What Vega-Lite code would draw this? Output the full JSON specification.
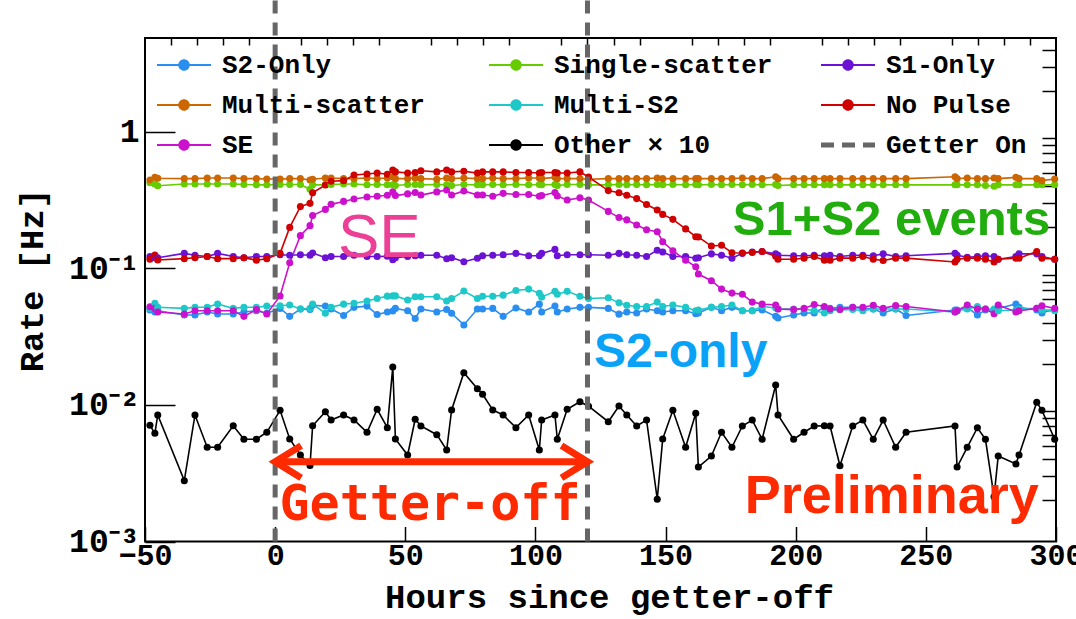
{
"$schema": "https://vega.github.io/schema/vega-lite/v6.json",
"width": 911, "height": 503.5,
"autosize": {"type": "none"},
"padding": {"left": 145, "top": 38, "right": 20, "bottom": 77},
"background": "white",
"config": {"view": {"stroke": "black", "strokeWidth": 2}, "axis": {"grid": false, "domain": false}},
"resolve": {"axis": {"x": "independent", "y": "independent"}},
"layer": [
{
"data": {"values": [
{"h":-48.1,"S2-Only":0.0497,"Single-scatter":0.425,"S1-Only":0.1225,"Multi-scatter":0.445,"Multi-S2":0.051,"No Pulse":0.117,"SE":0.0525,"Other × 10":0.0071},
{"h":-46.2,"S2-Only":0.048,"Single-scatter":0.416,"S1-Only":0.12,"Multi-scatter":0.466,"Multi-S2":0.0557,"No Pulse":0.1255,"SE":0.051,"Other × 10":0.0062},
{"h":-45.1,"S2-Only":0.049,"Single-scatter":0.404,"S1-Only":0.12,"Multi-scatter":0.458,"Multi-S2":0.052,"No Pulse":0.1154,"SE":0.048,"Other × 10":0.00845},
{"h":-34.9,"S2-Only":0.0456,"Single-scatter":0.416,"S1-Only":0.129,"Multi-scatter":0.455,"Multi-S2":0.051,"No Pulse":0.118,"SE":0.0464,"Other × 10":0.00279},
{"h":-30.8,"S2-Only":0.0456,"Single-scatter":0.416,"S1-Only":0.125,"Multi-scatter":0.455,"Multi-S2":0.052,"No Pulse":0.12,"SE":0.049,"Other × 10":0.00845},
{"h":-26.1,"S2-Only":0.048,"Single-scatter":0.416,"S1-Only":0.1225,"Multi-scatter":0.46,"Multi-S2":0.052,"No Pulse":0.1225,"SE":0.049,"Other × 10":0.0049},
{"h":-22.1,"S2-Only":0.0464,"Single-scatter":0.416,"S1-Only":0.129,"Multi-scatter":0.46,"Multi-S2":0.055,"No Pulse":0.118,"SE":0.049,"Other × 10":0.0049},
{"h":-16.1,"S2-Only":0.0464,"Single-scatter":0.416,"S1-Only":0.1225,"Multi-scatter":0.46,"Multi-S2":0.051,"No Pulse":0.118,"SE":0.049,"Other × 10":0.00705},
{"h":-12.0,"S2-Only":0.048,"Single-scatter":0.412,"S1-Only":0.12,"Multi-scatter":0.455,"Multi-S2":0.052,"No Pulse":0.12,"SE":0.0446,"Other × 10":0.00561},
{"h":-7.2,"S2-Only":0.049,"Single-scatter":0.41,"S1-Only":0.1225,"Multi-scatter":0.455,"Multi-S2":0.052,"No Pulse":0.115,"SE":0.05,"Other × 10":0.00561},
{"h":-3.2,"S2-Only":0.047,"Single-scatter":0.41,"S1-Only":0.1225,"Multi-scatter":0.452,"Multi-S2":0.053,"No Pulse":0.118,"SE":0.0465,"Other × 10":0.00631},
{"h":1.9,"S2-Only":0.051,"Single-scatter":0.412,"S1-Only":0.126,"Multi-scatter":0.452,"Multi-S2":0.0533,"No Pulse":0.129,"SE":0.0629,"Other × 10":0.00914},
{"h":5.6,"S2-Only":0.0446,"Single-scatter":0.412,"S1-Only":0.125,"Multi-scatter":0.455,"Multi-S2":0.054,"No Pulse":0.2,"SE":0.11,"Other × 10":0.00564},
{"h":9.7,"S2-Only":0.0505,"Single-scatter":0.412,"S1-Only":0.126,"Multi-scatter":0.455,"Multi-S2":0.0505,"No Pulse":0.284,"SE":0.174,"Other × 10":0.0043},
{"h":13.4,"S2-Only":0.05,"Single-scatter":0.38,"S1-Only":0.125,"Multi-scatter":0.445,"Multi-S2":0.051,"No Pulse":0.3,"SE":0.206,"Other × 10":0.0036},
{"h":14.4,"S2-Only":0.0538,"Single-scatter":0.41,"S1-Only":0.13,"Multi-scatter":0.45,"Multi-S2":0.0548,"No Pulse":0.359,"SE":0.244,"Other × 10":0.00705},
{"h":19.3,"S2-Only":0.053,"Single-scatter":0.41,"S1-Only":0.12,"Multi-scatter":0.46,"Multi-S2":0.047,"No Pulse":0.409,"SE":0.271,"Other × 10":0.00893},
{"h":21.5,"S2-Only":0.0505,"Single-scatter":0.412,"S1-Only":0.1225,"Multi-scatter":0.46,"Multi-S2":0.052,"No Pulse":0.435,"SE":0.295,"Other × 10":0.00776},
{"h":26.3,"S2-Only":0.0453,"Single-scatter":0.416,"S1-Only":0.1225,"Multi-scatter":0.455,"Multi-S2":0.0548,"No Pulse":0.44,"SE":0.31,"Other × 10":0.00845},
{"h":30.3,"S2-Only":0.0519,"Single-scatter":0.416,"S1-Only":0.125,"Multi-scatter":0.455,"Multi-S2":0.0557,"No Pulse":0.484,"SE":0.323,"Other × 10":0.00776},
{"h":35.3,"S2-Only":0.053,"Single-scatter":0.41,"S1-Only":0.1225,"Multi-scatter":0.46,"Multi-S2":0.0577,"No Pulse":0.492,"SE":0.334,"Other × 10":0.00631},
{"h":39.2,"S2-Only":0.046,"Single-scatter":0.412,"S1-Only":0.1225,"Multi-scatter":0.455,"Multi-S2":0.0602,"No Pulse":0.5,"SE":0.338,"Other × 10":0.0093},
{"h":43.1,"S2-Only":0.048,"Single-scatter":0.41,"S1-Only":0.123,"Multi-scatter":0.46,"Multi-S2":0.0627,"No Pulse":0.49,"SE":0.344,"Other × 10":0.00682},
{"h":45.2,"S2-Only":0.0488,"Single-scatter":0.41,"S1-Only":0.116,"Multi-scatter":0.47,"Multi-S2":0.063,"No Pulse":0.527,"SE":0.364,"Other × 10":0.019},
{"h":46.2,"S2-Only":0.051,"Single-scatter":0.405,"S1-Only":0.12,"Multi-scatter":0.455,"Multi-S2":0.063,"No Pulse":0.51,"SE":0.342,"Other × 10":0.00564},
{"h":50.9,"S2-Only":0.049,"Single-scatter":0.412,"S1-Only":0.1225,"Multi-scatter":0.455,"Multi-S2":0.0587,"No Pulse":0.5,"SE":0.352,"Other × 10":0.0043},
{"h":53.8,"S2-Only":0.043,"Single-scatter":0.412,"S1-Only":0.124,"Multi-scatter":0.46,"Multi-S2":0.062,"No Pulse":0.505,"SE":0.36,"Other × 10":0.00786},
{"h":56.0,"S2-Only":0.0505,"Single-scatter":0.41,"S1-Only":0.125,"Multi-scatter":0.455,"Multi-S2":0.062,"No Pulse":0.52,"SE":0.345,"Other × 10":0.00702},
{"h":62.1,"S2-Only":0.048,"Single-scatter":0.412,"S1-Only":0.125,"Multi-scatter":0.45,"Multi-S2":0.062,"No Pulse":0.51,"SE":0.364,"Other × 10":0.00606},
{"h":65.9,"S2-Only":0.05,"Single-scatter":0.41,"S1-Only":0.118,"Multi-scatter":0.46,"Multi-S2":0.0577,"No Pulse":0.527,"SE":0.376,"Other × 10":0.00468},
{"h":67.8,"S2-Only":0.047,"Single-scatter":0.405,"S1-Only":0.12,"Multi-scatter":0.455,"Multi-S2":0.0602,"No Pulse":0.51,"SE":0.345,"Other × 10":0.00919},
{"h":72.5,"S2-Only":0.0386,"Single-scatter":0.412,"S1-Only":0.112,"Multi-scatter":0.46,"Multi-S2":0.0683,"No Pulse":0.515,"SE":0.37,"Other × 10":0.01725},
{"h":77.7,"S2-Only":0.0505,"Single-scatter":0.41,"S1-Only":0.119,"Multi-scatter":0.455,"Multi-S2":0.0602,"No Pulse":0.5,"SE":0.345,"Other × 10":0.01316},
{"h":79.7,"S2-Only":0.0505,"Single-scatter":0.41,"S1-Only":0.124,"Multi-scatter":0.455,"Multi-S2":0.0626,"No Pulse":0.51,"SE":0.345,"Other × 10":0.01197},
{"h":83.6,"S2-Only":0.051,"Single-scatter":0.412,"S1-Only":0.125,"Multi-scatter":0.46,"Multi-S2":0.0626,"No Pulse":0.51,"SE":0.338,"Other × 10":0.00919},
{"h":87.6,"S2-Only":0.0446,"Single-scatter":0.41,"S1-Only":0.126,"Multi-scatter":0.455,"Multi-S2":0.0638,"No Pulse":0.51,"SE":0.355,"Other × 10":0.00845},
{"h":92.5,"S2-Only":0.0514,"Single-scatter":0.412,"S1-Only":0.129,"Multi-scatter":0.455,"Multi-S2":0.069,"No Pulse":0.505,"SE":0.348,"Other × 10":0.00682},
{"h":97.4,"S2-Only":0.048,"Single-scatter":0.41,"S1-Only":0.124,"Multi-scatter":0.46,"Multi-S2":0.0706,"No Pulse":0.505,"SE":0.348,"Other × 10":0.00845},
{"h":101.5,"S2-Only":0.0548,"Single-scatter":0.412,"S1-Only":0.124,"Multi-scatter":0.46,"Multi-S2":0.0658,"No Pulse":0.5,"SE":0.338,"Other × 10":0.00468},
{"h":102.4,"S2-Only":0.048,"Single-scatter":0.41,"S1-Only":0.129,"Multi-scatter":0.455,"Multi-S2":0.0617,"No Pulse":0.505,"SE":0.342,"Other × 10":0.00776},
{"h":107.5,"S2-Only":0.053,"Single-scatter":0.412,"S1-Only":0.138,"Multi-scatter":0.465,"Multi-S2":0.068,"No Pulse":0.505,"SE":0.36,"Other × 10":0.00845},
{"h":108.4,"S2-Only":0.048,"Single-scatter":0.405,"S1-Only":0.124,"Multi-scatter":0.455,"Multi-S2":0.0647,"No Pulse":0.5,"SE":0.34,"Other × 10":0.00561},
{"h":112.2,"S2-Only":0.0505,"Single-scatter":0.412,"S1-Only":0.126,"Multi-scatter":0.455,"Multi-S2":0.068,"No Pulse":0.5,"SE":0.317,"Other × 10":0.0093},
{"h":117.1,"S2-Only":0.0519,"Single-scatter":0.412,"S1-Only":0.126,"Multi-scatter":0.455,"Multi-S2":0.0626,"No Pulse":0.51,"SE":0.33,"Other × 10":0.01057},
{"h":120.4,"S2-Only":0.0519,"Single-scatter":0.41,"S1-Only":0.126,"Multi-scatter":0.45,"Multi-S2":0.0602,"No Pulse":0.468,"SE":0.317,"Other × 10":0.0098},
{"h":128.0,"S2-Only":0.051,"Single-scatter":0.41,"S1-Only":0.125,"Multi-scatter":0.455,"Multi-S2":0.061,"No Pulse":0.372,"SE":0.262,"Other × 10":0.00754},
{"h":132.1,"S2-Only":0.0463,"Single-scatter":0.412,"S1-Only":0.129,"Multi-scatter":0.455,"Multi-S2":0.056,"No Pulse":0.359,"SE":0.236,"Other × 10":0.00983},
{"h":135.1,"S2-Only":0.048,"Single-scatter":0.41,"S1-Only":0.126,"Multi-scatter":0.455,"Multi-S2":0.0538,"No Pulse":0.344,"SE":0.227,"Other × 10":0.00845},
{"h":138.9,"S2-Only":0.0472,"Single-scatter":0.412,"S1-Only":0.125,"Multi-scatter":0.455,"Multi-S2":0.0527,"No Pulse":0.325,"SE":0.208,"Other × 10":0.00702},
{"h":142.7,"S2-Only":0.0505,"Single-scatter":0.41,"S1-Only":0.1225,"Multi-scatter":0.455,"Multi-S2":0.0527,"No Pulse":0.294,"SE":0.192,"Other × 10":0.00776},
{"h":146.8,"S2-Only":0.049,"Single-scatter":0.412,"S1-Only":0.136,"Multi-scatter":0.46,"Multi-S2":0.0567,"No Pulse":0.268,"SE":0.186,"Other × 10":0.00204},
{"h":148.9,"S2-Only":0.048,"Single-scatter":0.41,"S1-Only":0.132,"Multi-scatter":0.455,"Multi-S2":0.0527,"No Pulse":0.249,"SE":0.157,"Other × 10":0.00564},
{"h":152.8,"S2-Only":0.049,"Single-scatter":0.412,"S1-Only":0.1225,"Multi-scatter":0.455,"Multi-S2":0.054,"No Pulse":0.229,"SE":0.135,"Other × 10":0.00914},
{"h":157.7,"S2-Only":0.049,"Single-scatter":0.41,"S1-Only":0.1225,"Multi-scatter":0.455,"Multi-S2":0.0519,"No Pulse":0.195,"SE":0.115,"Other × 10":0.0049},
{"h":161.6,"S2-Only":0.0466,"Single-scatter":0.412,"S1-Only":0.119,"Multi-scatter":0.455,"Multi-S2":0.049,"No Pulse":0.171,"SE":0.103,"Other × 10":0.00869},
{"h":162.6,"S2-Only":0.0472,"Single-scatter":0.41,"S1-Only":0.12,"Multi-scatter":0.455,"Multi-S2":0.0497,"No Pulse":0.17,"SE":0.091,"Other × 10":0.00351},
{"h":167.6,"S2-Only":0.0519,"Single-scatter":0.412,"S1-Only":0.128,"Multi-scatter":0.455,"Multi-S2":0.0519,"No Pulse":0.146,"SE":0.0814,"Other × 10":0.00423},
{"h":171.5,"S2-Only":0.049,"Single-scatter":0.41,"S1-Only":0.125,"Multi-scatter":0.455,"Multi-S2":0.0527,"No Pulse":0.148,"SE":0.0706,"Other × 10":0.00631},
{"h":175.5,"S2-Only":0.0519,"Single-scatter":0.412,"S1-Only":0.119,"Multi-scatter":0.455,"Multi-S2":0.054,"No Pulse":0.1305,"SE":0.066,"Other × 10":0.0049},
{"h":179.5,"S2-Only":0.049,"Single-scatter":0.41,"S1-Only":0.129,"Multi-scatter":0.46,"Multi-S2":0.049,"No Pulse":0.13,"SE":0.0647,"Other × 10":0.00702},
{"h":183.3,"S2-Only":0.049,"Single-scatter":0.412,"S1-Only":0.132,"Multi-scatter":0.455,"Multi-S2":0.049,"No Pulse":0.131,"SE":0.0567,"Other × 10":0.00776},
{"h":187.1,"S2-Only":0.0497,"Single-scatter":0.41,"S1-Only":0.133,"Multi-scatter":0.455,"Multi-S2":0.0527,"No Pulse":0.133,"SE":0.0548,"Other × 10":0.00561},
{"h":192.3,"S2-Only":0.0446,"Single-scatter":0.412,"S1-Only":0.128,"Multi-scatter":0.47,"Multi-S2":0.0514,"No Pulse":0.123,"SE":0.054,"Other × 10":0.014},
{"h":193.2,"S2-Only":0.0434,"Single-scatter":0.405,"S1-Only":0.125,"Multi-scatter":0.455,"Multi-S2":0.0505,"No Pulse":0.117,"SE":0.0505,"Other × 10":0.00845},
{"h":199.2,"S2-Only":0.0456,"Single-scatter":0.41,"S1-Only":0.124,"Multi-scatter":0.455,"Multi-S2":0.0505,"No Pulse":0.117,"SE":0.05,"Other × 10":0.00561},
{"h":203.2,"S2-Only":0.0472,"Single-scatter":0.41,"S1-Only":0.124,"Multi-scatter":0.455,"Multi-S2":0.0505,"No Pulse":0.119,"SE":0.051,"Other × 10":0.00631},
{"h":207.1,"S2-Only":0.0472,"Single-scatter":0.41,"S1-Only":0.125,"Multi-scatter":0.455,"Multi-S2":0.049,"No Pulse":0.1225,"SE":0.0545,"Other × 10":0.00702},
{"h":211.0,"S2-Only":0.0519,"Single-scatter":0.41,"S1-Only":0.124,"Multi-scatter":0.455,"Multi-S2":0.0472,"No Pulse":0.115,"SE":0.0527,"Other × 10":0.00705},
{"h":213.2,"S2-Only":0.051,"Single-scatter":0.41,"S1-Only":0.125,"Multi-scatter":0.455,"Multi-S2":0.049,"No Pulse":0.115,"SE":0.0505,"Other × 10":0.00702},
{"h":217.0,"S2-Only":0.0519,"Single-scatter":0.41,"S1-Only":0.1225,"Multi-scatter":0.455,"Multi-S2":0.05,"No Pulse":0.119,"SE":0.05,"Other × 10":0.00359},
{"h":221.9,"S2-Only":0.0519,"Single-scatter":0.41,"S1-Only":0.125,"Multi-scatter":0.455,"Multi-S2":0.05,"No Pulse":0.119,"SE":0.052,"Other × 10":0.00702},
{"h":225.8,"S2-Only":0.051,"Single-scatter":0.41,"S1-Only":0.125,"Multi-scatter":0.455,"Multi-S2":0.049,"No Pulse":0.1225,"SE":0.052,"Other × 10":0.00776},
{"h":229.8,"S2-Only":0.0505,"Single-scatter":0.41,"S1-Only":0.124,"Multi-scatter":0.455,"Multi-S2":0.0505,"No Pulse":0.117,"SE":0.0538,"Other × 10":0.00561},
{"h":233.6,"S2-Only":0.0472,"Single-scatter":0.41,"S1-Only":0.128,"Multi-scatter":0.455,"Multi-S2":0.0505,"No Pulse":0.1145,"SE":0.051,"Other × 10":0.00776},
{"h":238.4,"S2-Only":0.0505,"Single-scatter":0.41,"S1-Only":0.1225,"Multi-scatter":0.455,"Multi-S2":0.0505,"No Pulse":0.119,"SE":0.0536,"Other × 10":0.0049},
{"h":242.4,"S2-Only":0.0453,"Single-scatter":0.41,"S1-Only":0.124,"Multi-scatter":0.455,"Multi-S2":0.0505,"No Pulse":0.119,"SE":0.0527,"Other × 10":0.00631},
{"h":261.2,"S2-Only":0.0497,"Single-scatter":0.41,"S1-Only":0.129,"Multi-scatter":0.47,"Multi-S2":0.048,"No Pulse":0.1116,"SE":0.048,"Other × 10":0.00702},
{"h":262.0,"S2-Only":0.0497,"Single-scatter":0.41,"S1-Only":0.125,"Multi-scatter":0.455,"Multi-S2":0.049,"No Pulse":0.117,"SE":0.049,"Other × 10":0.00351},
{"h":265.9,"S2-Only":0.0519,"Single-scatter":0.41,"S1-Only":0.121,"Multi-scatter":0.46,"Multi-S2":0.0505,"No Pulse":0.119,"SE":0.054,"Other × 10":0.0049},
{"h":269.8,"S2-Only":0.0456,"Single-scatter":0.41,"S1-Only":0.1225,"Multi-scatter":0.455,"Multi-S2":0.0527,"No Pulse":0.119,"SE":0.0505,"Other × 10":0.00682},
{"h":272.9,"S2-Only":0.0497,"Single-scatter":0.405,"S1-Only":0.124,"Multi-scatter":0.455,"Multi-S2":0.0505,"No Pulse":0.117,"SE":0.0505,"Other × 10":0.00561},
{"h":276.2,"S2-Only":0.0497,"Single-scatter":0.4,"S1-Only":0.1225,"Multi-scatter":0.46,"Multi-S2":0.0505,"No Pulse":0.1116,"SE":0.0466,"Other × 10":0.00213},
{"h":277.8,"S2-Only":0.051,"Single-scatter":0.41,"S1-Only":0.117,"Multi-scatter":0.455,"Multi-S2":0.049,"No Pulse":0.117,"SE":0.054,"Other × 10":0.00423},
{"h":284.6,"S2-Only":0.055,"Single-scatter":0.41,"S1-Only":0.1225,"Multi-scatter":0.465,"Multi-S2":0.0497,"No Pulse":0.119,"SE":0.048,"Other × 10":0.0037},
{"h":285.8,"S2-Only":0.0519,"Single-scatter":0.41,"S1-Only":0.128,"Multi-scatter":0.455,"Multi-S2":0.0505,"No Pulse":0.119,"SE":0.049,"Other × 10":0.0043},
{"h":292.6,"S2-Only":0.0497,"Single-scatter":0.41,"S1-Only":0.128,"Multi-scatter":0.455,"Multi-S2":0.051,"No Pulse":0.133,"SE":0.051,"Other × 10":0.01047},
{"h":294.6,"S2-Only":0.0472,"Single-scatter":0.41,"S1-Only":0.1225,"Multi-scatter":0.44,"Multi-S2":0.0497,"No Pulse":0.119,"SE":0.0533,"Other × 10":0.00914},
{"h":299.5,"S2-Only":0.0505,"Single-scatter":0.41,"S1-Only":0.117,"Multi-scatter":0.453,"Multi-S2":0.049,"No Pulse":0.117,"SE":0.051,"Other × 10":0.00561}
]},
"transform": [{"fold": ["S2-Only","Single-scatter","S1-Only","Multi-scatter","Multi-S2","No Pulse","SE","Other × 10"], "as": ["series","rate"]}],
"mark": {"type": "line", "strokeWidth": 1.6, "point": {"filled": true, "size": 50}},
"encoding": {
"x": {"field": "h", "type": "quantitative", "scale": {"domain": [-50, 300], "nice": false, "zero": false},
 "axis": {"values": [-50,0,50,100,150,200,250,300], "tickSize": -15, "tickWidth": 1.5, "tickColor": "black", "labelFont": "Liberation Mono", "labelFontWeight": "bold", "labelFontSize": 30, "labelColor": "black", "labelPadding": 14, "labelFlush": false, "labelOverlap": false, "title": "Hours since getter-off", "titleFont": "Liberation Mono", "titleFontWeight": "bold", "titleFontSize": 34, "titleColor": "black", "titleX": 464, "titleY": 56, "titleBaseline": "middle", "titleAlign": "center"}},
"y": {"field": "rate", "type": "quantitative", "scale": {"type": "log", "domain": [0.001, 4.88], "nice": false},
 "axis": {"values": [0.001,0.01,0.1,1], "labelExpr": "datum.value > 0.5 ? '1' : datum.value > 0.05 ? '10⁻¹' : datum.value > 0.005 ? '10⁻²' : '10⁻³'", "tickSize": -30, "tickWidth": 1.5, "tickColor": "black", "labelFont": "Liberation Mono", "labelFontWeight": "bold", "labelFontSize": 33, "labelColor": "black", "labelPadding": 36, "labelOverlap": false, "labelFlush": false, "title": "Rate [Hz]", "titleFont": "Liberation Mono", "titleFontWeight": "bold", "titleFontSize": 34, "titleColor": "black", "titleX": -113, "titleY": 242, "titleAngle": -90, "titleBaseline": "middle", "titleAlign": "center"}},
"color": {"field": "series", "type": "nominal",
 "scale": {"domain": ["S2-Only","Single-scatter","S1-Only","Multi-scatter","Multi-S2","No Pulse","SE","Other × 10","Getter On"],
           "range": ["#2a8ef0","#66cc00","#6b12d4","#cc6600","#1ec8c8","#d00000","#cc11cc","#000000","#666666"]},
 "legend": {"title": null, "orient": "none", "legendX": 13, "legendY": 14, "direction": "horizontal", "columns": 3, "gridAlign": "all", "columnPadding": 38, "rowPadding": 14, "padding": 0, "symbolSize": 729, "symbolOffset": 13, "labelOffset": 25, "labelFont": "Liberation Mono", "labelFontWeight": "bold", "labelFontSize": 26, "labelColor": "black", "labelLimit": 400,
  "encode": {"symbols": {"update": {
    "shape": {"signal": "datum.value === 'Getter On' ? 'M-2,0L2,0' : 'M-2,0L2,0M-0.35,0A0.35,0.35,0,1,0,0.35,0A0.35,0.35,0,1,0,-0.35,0Z'"},
    "stroke": {"signal": "scale('color', datum.value)"},
    "fill": {"signal": "datum.value === 'Getter On' ? 'transparent' : scale('color', datum.value)"},
    "strokeDash": {"signal": "datum.value === 'Getter On' ? [13,8] : [1,0]"},
    "strokeWidth": {"signal": "datum.value === 'Getter On' ? 5 : 2"},
    "opacity": {"value": 1}, "fillOpacity": {"value": 1}, "strokeOpacity": {"value": 1}
  }}}}}
}
},
{
"data": {"values": [{"h": 0}, {"h": 120}]},
"mark": {"type": "rule", "strokeWidth": 5, "strokeDash": [13, 9]},
"encoding": {
"x": {"field": "h", "type": "quantitative", "scale": {"domain": [-50, 300], "nice": false, "zero": false},
 "axis": {"values": [-40,-30,-20,-10,10,20,30,40,60,70,80,90,110,120,130,140,160,170,180,190,210,220,230,240,260,270,280,290], "tickSize": -7, "tickWidth": 1.5, "tickColor": "black", "labels": false, "title": null}},
"y": {"datum": 9.2, "type": "quantitative", "scale": {"type": "log", "domain": [0.001, 4.88], "nice": false}, "axis": null},
"y2": {"datum": 0.001},
"color": {"datum": "Getter On"}
}
},
{
"data": {"values": [{"h": 0.5, "h2": 119.5, "v": 0.00384}]},
"mark": {"type": "rule", "strokeWidth": 7, "color": "#ff2a00"},
"encoding": {
"x": {"field": "h", "type": "quantitative", "scale": {"domain": [-50, 300], "nice": false, "zero": false}, "axis": null},
"x2": {"field": "h2"},
"y": {"field": "v", "type": "quantitative", "scale": {"type": "log", "domain": [0.001, 4.88], "nice": false},
 "axis": {"values": [0.002,0.003,0.004,0.005,0.006,0.007,0.008,0.009,0.02,0.03,0.04,0.05,0.06,0.07,0.08,0.09,0.2,0.3,0.4,0.5,0.6,0.7,0.8,0.9,2,3,4], "tickSize": -14, "tickWidth": 1.5, "tickColor": "black", "labels": false, "title": null}}
}
},
{
"data": {"values": [{"h": 0, "v": 0.00384}]},
"mark": {"type": "point", "shape": "M1,-0.62L0,0L1,0.62", "size": 2704, "filled": false, "strokeWidth": 7, "color": "#ff2a00", "opacity": 1},
"encoding": {
"x": {"field": "h", "type": "quantitative", "scale": {"domain": [-50, 300], "nice": false, "zero": false}, "axis": null},
"y": {"field": "v", "type": "quantitative", "scale": {"type": "log", "domain": [0.001, 4.88], "nice": false}, "axis": null}
}
},
{
"data": {"values": [{"h": 120, "v": 0.00384}]},
"mark": {"type": "point", "shape": "M-1,-0.62L0,0L-1,0.62", "size": 2704, "filled": false, "strokeWidth": 7, "color": "#ff2a00", "opacity": 1},
"encoding": {
"x": {"field": "h", "type": "quantitative", "scale": {"domain": [-50, 300], "nice": false, "zero": false}, "axis": null},
"y": {"field": "v", "type": "quantitative", "scale": {"type": "log", "domain": [0.001, 4.88], "nice": false}, "axis": null}
}
},
{
"data": {"values": [{"h": 40, "v": 0.122, "t": "SE"}]},
"mark": {"type": "text", "font": "Liberation Sans", "fontSize": 62, "color": "#ec3f96", "align": "center", "baseline": "alphabetic"},
"encoding": {
"x": {"field": "h", "type": "quantitative", "scale": {"domain": [-50, 300], "nice": false, "zero": false}, "axis": null},
"y": {"field": "v", "type": "quantitative", "scale": {"type": "log", "domain": [0.001, 4.88], "nice": false}, "axis": null},
"text": {"field": "t"}
}
},
{
"data": {"values": [{"h": 236.8, "v": 0.176, "t": "S1+S2 events"}]},
"mark": {"type": "text", "font": "Liberation Sans", "fontWeight": "bold", "fontSize": 49, "color": "#22ad0f", "align": "center", "baseline": "alphabetic"},
"encoding": {
"x": {"field": "h", "type": "quantitative", "scale": {"domain": [-50, 300], "nice": false, "zero": false}, "axis": null},
"y": {"field": "v", "type": "quantitative", "scale": {"type": "log", "domain": [0.001, 4.88], "nice": false}, "axis": null},
"text": {"field": "t"}
}
},
{
"data": {"values": [{"h": 155.8, "v": 0.0191, "t": "S2-only"}]},
"mark": {"type": "text", "font": "Liberation Sans", "fontWeight": "bold", "fontSize": 48, "color": "#0aa2f6", "align": "center", "baseline": "alphabetic"},
"encoding": {
"x": {"field": "h", "type": "quantitative", "scale": {"domain": [-50, 300], "nice": false, "zero": false}, "axis": null},
"y": {"field": "v", "type": "quantitative", "scale": {"type": "log", "domain": [0.001, 4.88], "nice": false}, "axis": null},
"text": {"field": "t"}
}
},
{
"data": {"values": [{"h": 236.9, "v": 0.00161, "t": "Preliminary"}]},
"mark": {"type": "text", "font": "Liberation Sans", "fontWeight": "bold", "fontSize": 54, "color": "#ff2a00", "align": "center", "baseline": "alphabetic"},
"encoding": {
"x": {"field": "h", "type": "quantitative", "scale": {"domain": [-50, 300], "nice": false, "zero": false}, "axis": null},
"y": {"field": "v", "type": "quantitative", "scale": {"type": "log", "domain": [0.001, 4.88], "nice": false}, "axis": null},
"text": {"field": "t"}
}
},
{
"data": {"values": [{"h": 59.5, "v": 0.001437, "t": "Getter-off"}]},
"mark": {"type": "text", "font": "DejaVu Sans Mono", "fontWeight": "bold", "fontSize": 50, "color": "#ff2a00", "align": "center", "baseline": "alphabetic"},
"encoding": {
"x": {"field": "h", "type": "quantitative", "scale": {"domain": [-50, 300], "nice": false, "zero": false}, "axis": null},
"y": {"field": "v", "type": "quantitative", "scale": {"type": "log", "domain": [0.001, 4.88], "nice": false}, "axis": null},
"text": {"field": "t"}
}
}
]
}
